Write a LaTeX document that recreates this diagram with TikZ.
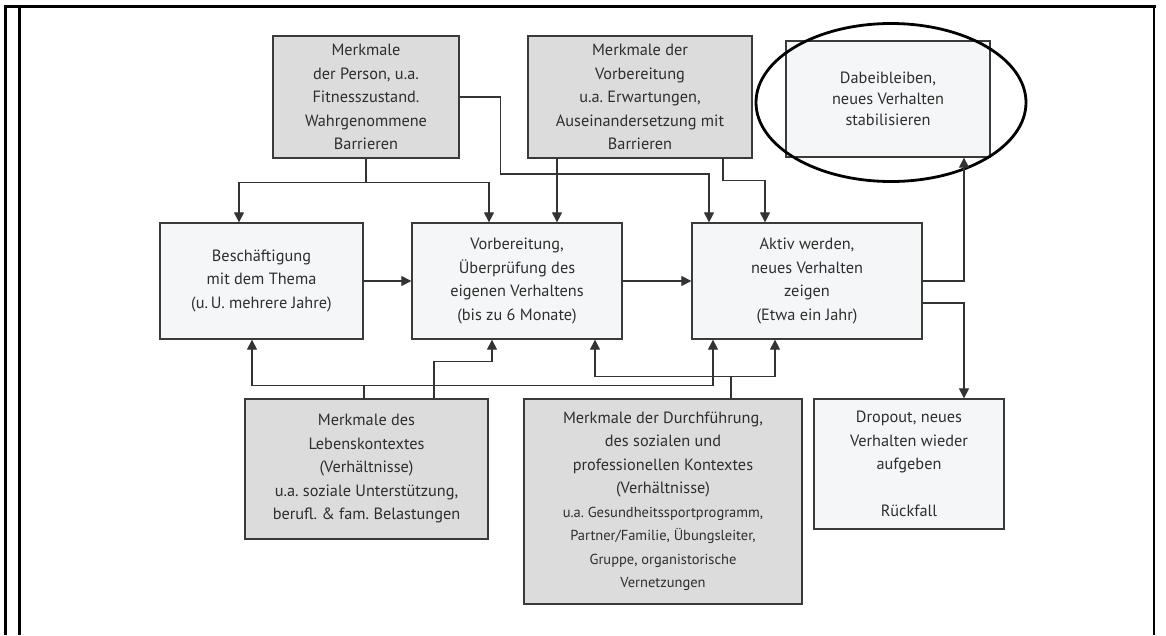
\documentclass[tikz,border=0pt]{standalone}
\usepackage{fontspec}
\setmainfont{PT Sans}
\usetikzlibrary{arrows.meta,shapes.geometric}
\frenchspacing

\definecolor{boxline}{HTML}{3A3A3A}
\definecolor{linkcol}{HTML}{333333}
\definecolor{greyfill}{HTML}{DCDCDC}
\definecolor{lightfill}{HTML}{F5F6F8}
\definecolor{txt}{HTML}{2E2E2E}

\newcommand{\mainsz}{\fontsize{16.3}{23.5}\selectfont}
\newcommand{\smallsz}{\fontsize{14.5}{23.5}\selectfont}

\tikzset{
  box/.style={draw=boxline, line width=1.3, inner sep=0pt, align=center,
              font=\mainsz, text=txt},
  greybox/.style={box, fill=greyfill},
  lightbox/.style={box, fill=lightfill},
  link/.style={draw=linkcol, line width=1.2},
  arr/.style={link, -{Triangle[width=10pt,length=10pt]}},
  frame/.style={draw=black, line width=2.6},
}

\begin{document}
\begin{tikzpicture}[x=1pt, y=-1pt]
  \useasboundingbox (0,0) rectangle (1166,635);

  % outer frame of the table cell
  \draw[frame] (4,6.6) -- (1156,6.6);
  \draw[frame] (5.3,5.5) -- (5.3,635);
  \draw[frame] (19.6,5.5) -- (19.6,635);
  \draw[frame] (1154,5.5) -- (1154,635);

  % influencing factors (top)
  \node[greybox, minimum width=186, minimum height=122] (person) at (366,97)
    {Merkmale\\der Person, u.a.\\Fitnesszustand.\\Wahrgenommene\\Barrieren};
  \node[greybox, minimum width=224, minimum height=122] (prep) at (640,97)
    {Merkmale der\\Vorbereitung\\u.a. Erwartungen,\\Auseinandersetzung mit\\Barrieren};

  % stages
  \node[lightbox, minimum width=204, minimum height=116, font=\fontsize{16.3}{21}\selectfont] (stay) at (888,99)
    {Dabeibleiben,\\neues Verhalten\\stabilisieren};
  \node[lightbox, minimum width=203, minimum height=116] (topic) at (261.5,281)
    {Beschäftigung\\mit dem Thema\\(u.\,U. mehrere Jahre)};
  \node[lightbox, minimum width=210, minimum height=116] (check) at (517,281)
    {Vorbereitung,\\Überprüfung des\\eigenen Verhaltens\\(bis zu 6 Monate)};
  \node[lightbox, minimum width=230, minimum height=116] (active) at (807,281)
    {Aktiv werden,\\neues Verhalten\\zeigen\\(Etwa ein Jahr)};
  \node[lightbox, minimum width=190, minimum height=130] (drop) at (909,464)
    {Dropout, neues\\Verhalten wieder\\aufgeben\\[23.5pt]Rückfall};

  % influencing factors (bottom)
  \node[greybox, minimum width=243, minimum height=140] (life) at (366.5,469)
    {Merkmale des\\Lebenskontextes\\(Verhältnisse)\\u.a. soziale Unterstützung,\\berufl. \& fam. Belastungen};
  \node[greybox, minimum width=278, minimum height=205] (exec) at (663,501.5)
    {Merkmale der Durchführung,\\des sozialen und\\professionellen Kontextes\\(Verhältnisse)\\
     {\smallsz u.a. Gesundheitssportprogramm,}\\{\smallsz Partner/Familie, Übungsleiter,}\\
     {\smallsz Gruppe, organistorische}\\{\smallsz Vernetzungen}};

  % highlight ring
  \node[draw=black, line width=2.8, ellipse, minimum width=270, minimum height=158,
        inner sep=0pt] (ring) at (891,102.5) {};

  % top connectors
  \draw[link] (person.south) -- ++(0,24) coordinate (pj);
  \draw[arr] (pj) -| ([xshift=-22.5pt]topic.north);
  \draw[arr] (pj) -| ([xshift=-28pt]check.north);
  \draw[arr] (person.east) -- ++(41,0) -- ++(0,77) -| ([xshift=-98pt]active.north);
  \draw[arr] ([xshift=-83pt]prep.south) -- ([xshift=40pt]check.north);
  \draw[arr] ([xshift=83pt]prep.south) -- ++(0,22) -| ([xshift=-42pt]active.north);

  % stage sequence
  \draw[arr] (topic.east) -- (check.west);
  \draw[arr] (check.east) -- (active.west);
  \draw[arr] (active.east) -| ([xshift=76pt]stay.south);
  \draw[arr] ([yshift=-22pt]active.east) -| ([xshift=55pt]drop.north);

  % bottom connectors
  \draw[link] ([xshift=-2.5pt]life.north) -- ++(0,-13) coordinate (lj);
  \draw[arr] (lj) -| ([xshift=-9.5pt]topic.south);
  \draw[arr] (lj) -| ([xshift=-94pt]active.south);
  \draw[arr] ([xshift=67.5pt]life.north) -- ++(0,-37) -| ([xshift=-25pt]check.south);
  \draw[link] ([xshift=68pt]exec.north) -- ++(0,-22) coordinate (ej);
  \draw[arr] (ej) -| ([xshift=78pt]check.south);
  \draw[arr] (ej) -| ([xshift=-32pt]active.south);
\end{tikzpicture}
\end{document}
